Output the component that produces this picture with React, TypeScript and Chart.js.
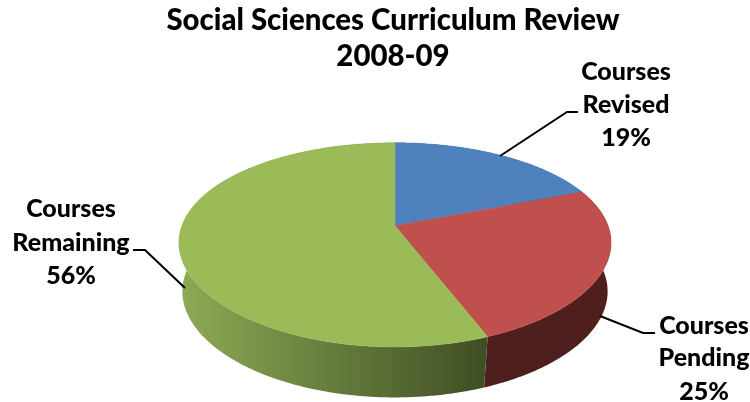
import { useEffect, useRef } from "react";
import { Chart, registerables } from "chart.js";

Chart.register(...registerables);

const categories = ["Courses Revised", "Courses Pending", "Courses Remaining"];
const shares = [19, 25, 56];
const titleLines = ["Social Sciences Curriculum Review", "2008-09"];

const faceColors = ["#4f81bd", "#c0504d", "#9bbb59"];
const wallStops = [
  ["#2c4a6e", "#2c4a6e"],
  ["#4f1f1e", "#4f1f1e"],
  ["#8dab55", "#3f4d23"],
];

// Tilted-disc projection, expressed relative to the arc element's geometry.
const view = {
  shiftX: 2,
  top: { ax: 1.41, by: 0.652, kx: 0.165, ky: 0.186 },
  bottom: { ax: 1.393, by: 0.67, kx: 0.14, ky: 0.16, dy: 51 },
};

// Callout text centres and their leader polylines.
const callouts = [
  { x: 626, lines: [72, 105, 138], leader: [[500, 156], [567, 112], [578, 112]] },
  { x: 704, lines: [326, 358, 392], leader: [[600, 316], [643, 333], [655, 333]] },
  { x: 71, lines: [209, 243, 276], leader: [[185, 288], [145, 250], [133, 250]] },
];

const fontFamily = "Lato, Carlito, sans-serif";

function project(arc: any, angle: number, ring: any) {
  const u = Math.cos(angle);
  const v = Math.sin(angle);
  return {
    x: arc.x + view.shiftX + (arc.outerRadius * ring.ax * u) / (1 - ring.kx * v),
    y: arc.y + (ring.dy || 0) + (arc.outerRadius * ring.by * v) / (1 - ring.ky * v),
  };
}

function ringPoints(arc: any, ring: any) {
  const pts = [];
  const steps = Math.max(8, Math.ceil((arc.endAngle - arc.startAngle) / 0.01));
  for (let i = 0; i <= steps; i++) {
    pts.push(project(arc, arc.startAngle + ((arc.endAngle - arc.startAngle) * i) / steps, ring));
  }
  return pts;
}

const discPlugin = {
  id: "tiltedDisc",
  beforeDatasetsDraw(chart: any) {
    const { ctx } = chart;
    const arcs = chart.getDatasetMeta(0).data;
    ctx.save();
    arcs.forEach((arc: any, i: number) => {
      const top = ringPoints(arc, view.top);
      const bottom = ringPoints(arc, view.bottom);
      const xs = top.map((p: any) => p.x);
      const visible = top
        .map((p: any, n: number) => ({ p, n }))
        .filter((e: any) => bottom[e.n].y >= e.p.y);
      const left = Math.min(...xs);
      const right = Math.max(...xs);
      const fill = ctx.createLinearGradient(left, 0, right, 0);
      fill.addColorStop(0, wallStops[i][0]);
      fill.addColorStop(1, wallStops[i][1]);
      ctx.fillStyle = fill;
      ctx.beginPath();
      visible.forEach((e: any, n: number) => {
        if (n === 0) ctx.moveTo(e.p.x, e.p.y);
        else ctx.lineTo(e.p.x, e.p.y);
      });
      [...visible].reverse().forEach((e: any) => ctx.lineTo(bottom[e.n].x, bottom[e.n].y));
      ctx.closePath();
      ctx.fill();
    });
    arcs.forEach((arc: any, i: number) => {
      const rim = ringPoints(arc, view.top);
      ctx.fillStyle = faceColors[i];
      ctx.strokeStyle = faceColors[i];
      ctx.lineWidth = 0.5;
      ctx.beginPath();
      ctx.moveTo(arc.x + view.shiftX, arc.y);
      rim.forEach((p: any) => ctx.lineTo(p.x, p.y));
      ctx.closePath();
      ctx.fill();
      ctx.stroke();
    });
    ctx.restore();
    return false;
  },
};

const calloutPlugin = {
  id: "callouts",
  afterDraw(chart: any) {
    const { ctx } = chart;
    ctx.save();
    ctx.strokeStyle = "#000000";
    ctx.lineWidth = 2;
    ctx.fillStyle = "#000000";
    ctx.font = `900 25px ${fontFamily}`;
    ctx.textAlign = "center";
    ctx.textBaseline = "middle";
    callouts.forEach((c, i) => {
      ctx.beginPath();
      c.leader.forEach(([x, y], n) => (n === 0 ? ctx.moveTo(x, y) : ctx.lineTo(x, y)));
      ctx.stroke();
      const text = [...categories[i].split(" "), `${shares[i]}%`];
      text.forEach((t, n) => ctx.fillText(t, c.x, c.lines[n]));
    });
    ctx.restore();
  },
};

export default function App() {
  const ref = useRef<HTMLCanvasElement>(null);
  useEffect(() => {
    const chart = new Chart(ref.current as HTMLCanvasElement, {
      type: "pie",
      data: {
        labels: categories,
        datasets: [{ data: shares, backgroundColor: faceColors, borderWidth: 0 }],
      },
      options: {
        responsive: false,
        animation: false,
        layout: { padding: { left: 36, right: 0, top: 0, bottom: 25 } },
        plugins: {
          legend: { display: false },
          tooltip: { enabled: false },
          title: {
            display: true,
            text: titleLines,
            color: "#000000",
            font: { family: fontFamily, size: 29.4, weight: "900", lineHeight: 1.22 },
            padding: { top: 3, bottom: 0 },
          },
        },
      },
      plugins: [discPlugin, calloutPlugin],
    } as any);
    return () => chart.destroy();
  }, []);
  return (
    <div style={{ position: "absolute", left: 0, top: 0, width: 750, height: 402, background: "#ffffff" }}>
      <canvas ref={ref} width={750} height={402} style={{ display: "block" }} />
    </div>
  );
}
